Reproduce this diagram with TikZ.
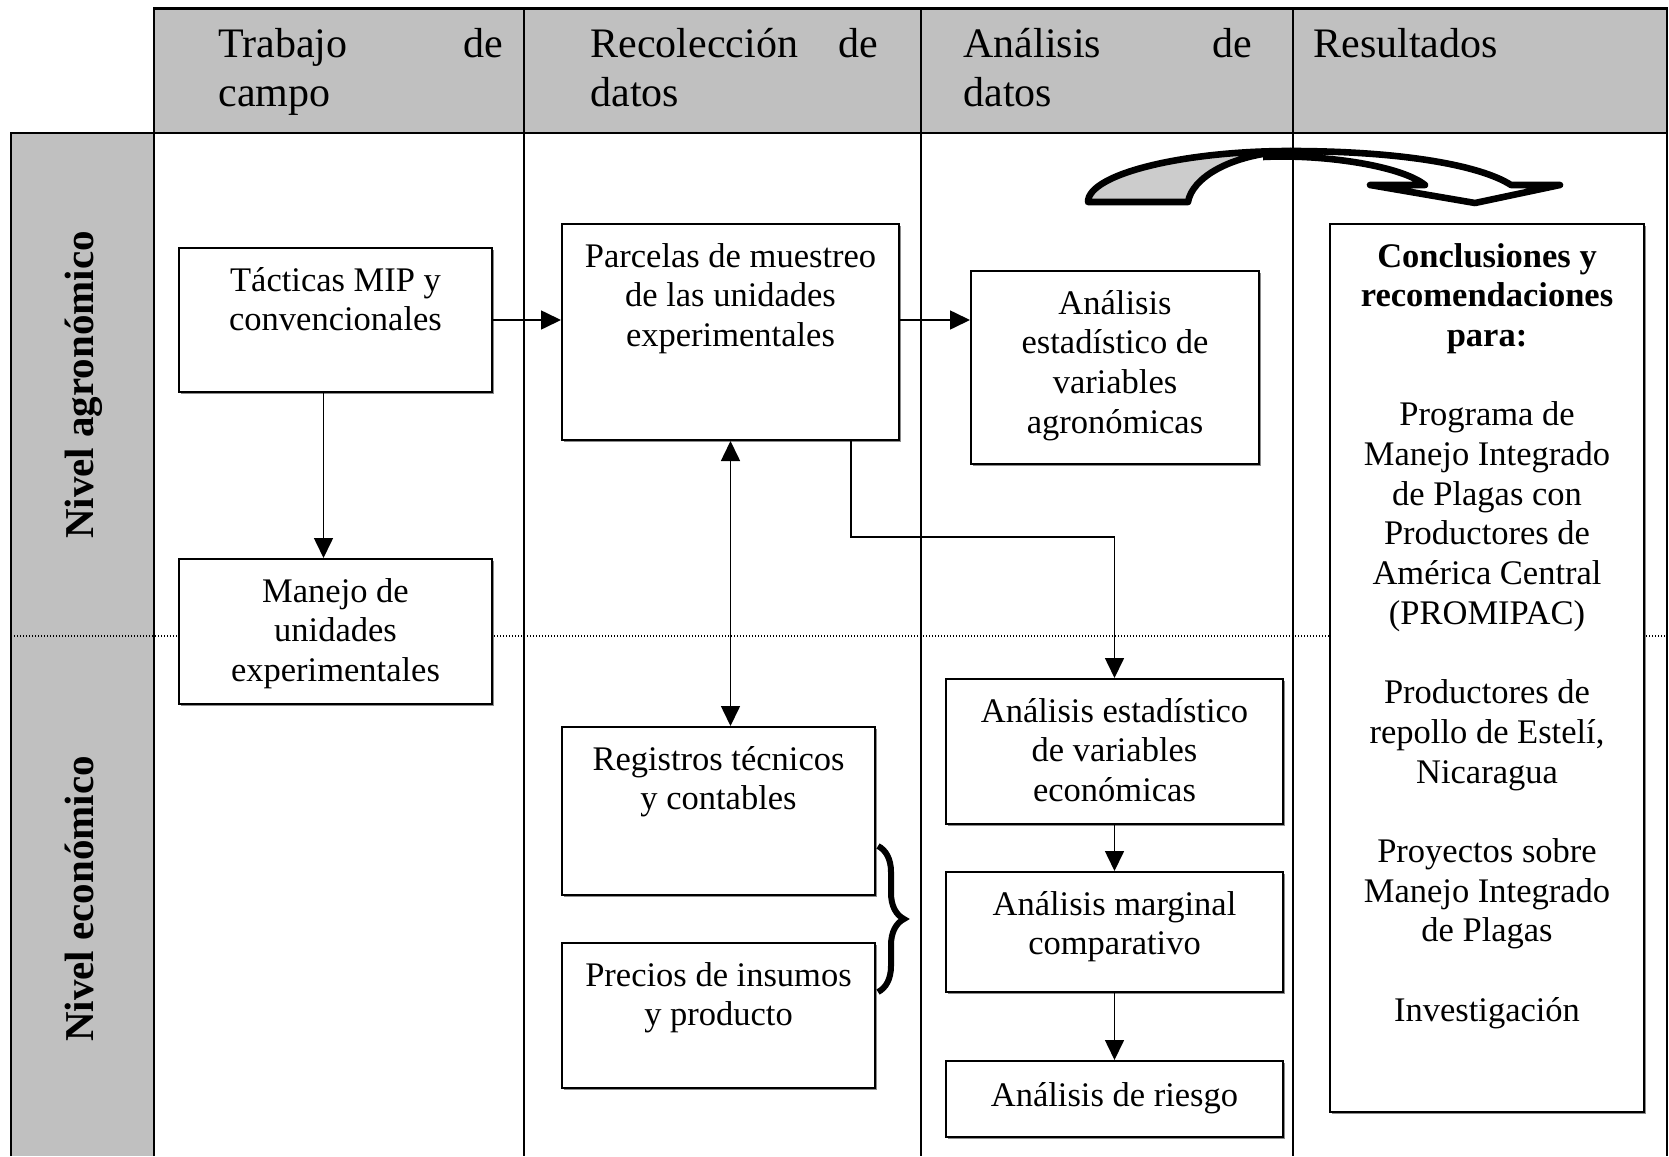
\documentclass[tikz,border=0pt]{standalone}
\usepackage{fontspec}
\setmainfont{Liberation Serif}
\usetikzlibrary{arrows.meta,fit,decorations.pathreplacing,shadows}
\definecolor{hdrgray}{RGB}{192,192,192}
\definecolor{arrgray}{RGB}{204,204,204}
\newcommand{\txc}[1]{\begin{tabular}[t]{@{}c@{}}#1\end{tabular}}
\newcommand{\txl}[1]{\begin{tabular}[t]{@{}l@{}}#1\end{tabular}}
\tikzset{
  boxst/.style={draw, line width=1pt, fill=white, inner sep=0pt,
    drop shadow={shadow xshift=0.75pt, shadow yshift=-0.75pt, fill=black!45, opacity=1}},
  btxt/.style={anchor=base, inner sep=0pt, font=\fontsize{17.25}{19.85}\selectfont},
  htxt/.style={anchor=base west, inner sep=0pt, font=\fontsize{21}{24.5}\selectfont},
  ltxt/.style={anchor=base, rotate=90, inner sep=0pt, font=\bfseries\fontsize{20.5}{24}\selectfont},
  conn/.style={line width=0.8pt, -{Triangle[width=9.5pt,length=10pt]}},
  dconn/.style={line width=0.8pt, {Triangle[width=9.5pt,length=10pt]}-{Triangle[width=9.5pt,length=10pt]}},
  outer/.style={line width=1.1pt},
  inner/.style={line width=0.8pt},
  curved/.style={line width=3.3pt, line join=round}
}
\begin{document}
\begin{tikzpicture}[x=0.5pt,y=-0.5pt]
\useasboundingbox (0,0) rectangle (1669,1156);
% fills
\fill[hdrgray] (154,8.5) rectangle (1667,133);
\fill[hdrgray] (11,133) rectangle (154,1156);
% dotted separator
\draw[line width=0.6pt, dash pattern=on 0.6pt off 0.9pt] (11,636) -- (1667,636);
% column lines
\draw[inner] (524,133) -- (524,1156) (921,133) -- (921,1156) (1293,133) -- (1293,1156);
\draw[outer] (154,1156) -- (154,8.5) -- (1667,8.5) -- (1667,1156);
\draw[outer] (11,1156) -- (11,133) -- (1667,133);
\draw[outer] (524,8.5) -- (524,133) (921,8.5) -- (921,133) (1293,8.5) -- (1293,133);
% header texts
\node[htxt] (h1) at (218,58) {\txl{\hbox to 142.5pt{Trabajo\hfill de}\\campo}};
\node[htxt] (h2) at (590,58) {\txl{\hbox to 144pt{Recolección\hfill de}\\datos}};
\node[htxt] (h3) at (963,58) {\txl{\hbox to 144.5pt{Análisis\hfill de}\\datos}};
\node[htxt] (h4) at (1313,58) {Resultados};
% row labels
\node[ltxt] (lagr) at (93,385) {Nivel agronómico};
\node[ltxt] (leco) at (93,899) {Nivel económico};
% boxes
\node[boxst, fit={(179,248) (492,392)}] (tact) {};
\node[boxst, fit={(179,559) (492,704)}] (man) {};
\node[boxst, fit={(562,224) (899,440)}] (parc) {};
\node[boxst, fit={(971,271) (1259,464)}] (aagr) {};
\node[boxst, fit={(562,727) (875,895)}] (reg) {};
\node[boxst, fit={(562,943) (875,1088)}] (prec) {};
\node[boxst, fit={(946,679) (1283,824)}] (aeco) {};
\node[boxst, fit={(946,872) (1283,992)}] (amar) {};
\node[boxst, fit={(946,1061) (1283,1137)}] (ries) {};
\node[boxst, fit={(1330,224) (1644,1112)}] (conc) {};
% box texts
\node[btxt] (ttact) at ([yshift=-22pt]tact.north) {\txc{Tácticas MIP y\\convencionales}};
\node[btxt] (tman) at ([yshift=-22pt]man.north) {\txc{Manejo de\\unidades\\experimentales}};
\node[btxt] (tparc) at ([yshift=-22pt]parc.north) {\txc{Parcelas de muestreo\\de las unidades\\experimentales}};
\node[btxt] (taagr) at ([yshift=-22pt]aagr.north) {\txc{Análisis\\estadístico de\\variables\\agronómicas}};
\node[btxt] (treg) at ([yshift=-22pt]reg.north) {\txc{Registros técnicos\\y contables}};
\node[btxt] (tprec) at ([yshift=-22pt]prec.north) {\txc{Precios de insumos\\y producto}};
\node[btxt] (taeco) at ([yshift=-22pt]aeco.north) {\txc{Análisis estadístico\\de variables\\económicas}};
\node[btxt] (tamar) at ([yshift=-22pt]amar.north) {\txc{Análisis marginal\\comparativo}};
\node[btxt] (tries) at ([yshift=-23pt]ries.north) {Análisis de riesgo};
\node[btxt] (tconc) at ([yshift=-22pt]conc.north) {\txc{\textbf{Conclusiones y}\\\textbf{recomendaciones}\\\textbf{para:}\\ \\Programa de\\Manejo Integrado\\de Plagas con\\Productores de\\América Central\\(PROMIPAC)\\ \\Productores de\\repollo de Estelí,\\Nicaragua\\ \\Proyectos sobre\\Manejo Integrado\\de Plagas\\ \\Investigación}};
% connectors
\draw[conn] (tact.east) -- (tact.east -| parc.west);
\draw[conn] ([xshift=-6pt]tact.south) -- ([xshift=-6pt]tact.south |- man.north);
\draw[conn] (parc.east |- tact.east) -- (aagr.west |- tact.east);
\coordinate (elb) at (851,537);
\draw[conn] (parc.south -| elb) -- (elb) -| (aeco.north);
\draw[dconn] (parc.south) -- (parc.south |- reg.north);
\draw[conn] (aeco.south) -- (amar.north);
\draw[conn] (amar.south) -- (ries.north);
% brace
\draw[line width=3pt, decorate, decoration={brace, amplitude=13pt}] (878,846) -- (878,992);
% curved arrow
\filldraw[fill=arrgray, curved] (1088,202) .. controls (1088,174) and (1183,151) .. (1290,151) .. controls (1230,154) and (1192,178) .. (1188,202) -- cycle;
\draw[curved] (1290,151) .. controls (1400,151) and (1480,165) .. (1511,185) -- (1560,185) -- (1475,203) -- (1370,185) -- (1425,185) .. controls (1400,165) and (1320,154) .. (1263,157);
\end{tikzpicture}
\end{document}
